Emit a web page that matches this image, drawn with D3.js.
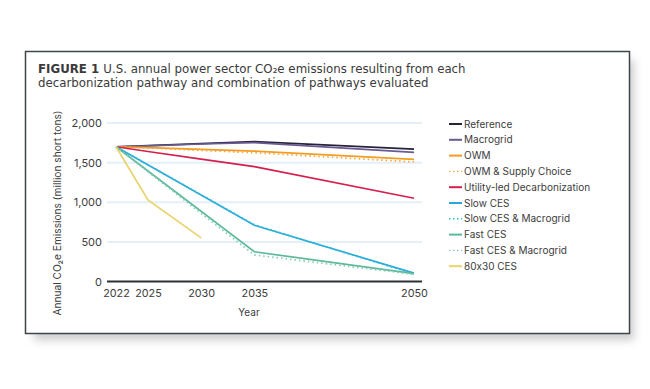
<!DOCTYPE html>
<html>
<head>
<meta charset="utf-8">
<script src="https://cdn.jsdelivr.net/npm/d3@7"></script>
<style>
  body { margin: 0; background: #fff; }
  svg { display: block; }
  .tick-label, .legend-label, .axis-title { font-family: Inter, "Liberation Sans", sans-serif; fill: #3c3c3c; font-feature-settings: "calt" 0; }
  .title { font-family: "DejaVu Sans", sans-serif; fill: #3a3a3a; }
</style>
</head>
<body>
<div id="chart"></div>
<script>
// data (million short tons CO2e)
const yearsFull = [2022, 2025, 2030, 2035, 2050];
const yearsCES  = [2022, 2035, 2050];
const years8030 = [2022, 2025, 2030];

const referenceVals  = [1700, 1715, 1740, 1765, 1670];
const macrogridVals  = [1700, 1712, 1735, 1752, 1630];
const owmVals        = [1700, 1690, 1668, 1646, 1542];
const owmSupplyVals  = [1700, 1684, 1654, 1624, 1508];
const utilityVals    = [1700, 1640, 1545, 1450, 1050];
const slowCesVals    = [1700, 710, 105];
const slowCesMgVals  = [1700, 716, 96];
const fastCesVals    = [1700, 375, 100];
const fastCesMgVals  = [1700, 335, 90];
const ces8030Vals    = [1700, 1030, 550];

const yTicks = [0, 500, 1000, 1500, 2000];
const xTicks = [2022, 2025, 2030, 2035, 2050];

const seriesNames = ['Reference', 'Macrogrid', 'OWM', 'OWM & Supply Choice', 'Utility-led Decarbonization',
  'Slow CES', 'Slow CES & Macrogrid', 'Fast CES', 'Fast CES & Macrogrid', '80x30 CES'];

const series = [
  { name: seriesNames[0], years: yearsFull, values: referenceVals, color: '#24233a', dash: null },
  { name: seriesNames[1], years: yearsFull, values: macrogridVals, color: '#6a5a92', dash: null },
  { name: seriesNames[2], years: yearsFull, values: owmVals, color: '#f39c1f', dash: null },
  { name: seriesNames[3], years: yearsFull, values: owmSupplyVals, color: '#f3a848', dash: '1.5,3' },
  { name: seriesNames[4], years: yearsFull, values: utilityVals, color: '#d5204e', dash: null },
  { name: seriesNames[5], years: yearsCES, values: slowCesVals, color: '#2ba7df', dash: null },
  { name: seriesNames[6], years: yearsCES, values: slowCesMgVals, color: '#2fc1c9', dash: '1.5,3' },
  { name: seriesNames[7], years: yearsCES, values: fastCesVals, color: '#5cb99b', dash: null },
  { name: seriesNames[8], years: yearsCES, values: fastCesMgVals, color: '#86ccb6', dash: '1.5,3' },
  { name: seriesNames[9], years: years8030, values: ces8030Vals, color: '#e8d46c', dash: null }
];

const width = 650, height = 389;

const svg = d3.select('#chart').append('svg')
  .attr('width', width)
  .attr('height', height);

// drop shadow under the card
const defs = svg.append('defs');
defs.append('filter')
  .attr('id', 'blur')
  .attr('x', '-10%').attr('y', '-10%').attr('width', '120%').attr('height', '130%')
  .append('feGaussianBlur').attr('stdDeviation', 4);

svg.append('rect')
  .attr('x', 34).attr('y', 60)
  .attr('width', 600).attr('height', 280)
  .attr('fill', '#cccccc')
  .attr('filter', 'url(#blur)');

svg.append('rect')
  .attr('x', 25.5).attr('y', 51.5)
  .attr('width', 604).attr('height', 282)
  .attr('fill', '#fff')
  .attr('stroke', '#3d454b')
  .attr('stroke-width', 1.5);

// title
const title = svg.append('text')
  .attr('class', 'title')
  .attr('x', 38)
  .attr('y', 73)
  .attr('font-size', 11.8);
title.append('tspan').attr('font-weight', 700).text('FIGURE 1 ');
title.append('tspan').text('U.S. annual power sector CO\u2082e emissions resulting from each');

svg.append('text')
  .attr('class', 'title')
  .attr('x', 38)
  .attr('y', 87)
  .attr('font-size', 11.8)
  .text('decarbonization pathway and combination of pathways evaluated');

// scales
const x = d3.scaleLinear().domain([2022, 2050]).range([116, 414]);
const y = d3.scaleLinear().domain([0, 2000]).range([281.5, 123]);

const chart = svg.append('g');

// gridlines
chart.selectAll('.grid')
  .data(yTicks.filter(d => d > 0))
  .join('line')
  .attr('class', 'grid')
  .attr('x1', 107).attr('x2', 422)
  .attr('y1', d => y(d)).attr('y2', d => y(d))
  .attr('stroke', '#e4eff8')
  .attr('stroke-width', 2);

// y axis labels
const yAxis = chart.append('g')
  .attr('transform', 'translate(106,0)')
  .call(d3.axisLeft(y).tickValues(yTicks).tickSize(0).tickPadding(4).tickFormat(d3.format(',')));
yAxis.select('.domain').remove();
yAxis.selectAll('text')
  .attr('class', 'tick-label')
  .attr('font-size', 11)
  .attr('fill', '#3c3c3c');

// x axis
const xAxis = chart.append('g')
  .attr('transform', `translate(0,${y(0)})`)
  .call(d3.axisBottom(x).tickValues(xTicks).tickSize(0).tickPadding(8).tickFormat(d3.format('d')));
xAxis.select('.domain').remove();
xAxis.selectAll('text')
  .attr('class', 'tick-label')
  .attr('font-size', 10.8)
  .attr('fill', '#3c3c3c');

chart.append('line')
  .attr('x1', 107).attr('x2', 422)
  .attr('y1', y(0)).attr('y2', y(0))
  .attr('stroke', '#2c3236')
  .attr('stroke-width', 2);

// axis titles
svg.append('text')
  .attr('class', 'axis-title')
  .attr('transform', 'translate(61,213) rotate(-90)')
  .attr('text-anchor', 'middle')
  .attr('font-size', 10.2)
  .text('Annual CO\u2082e Emissions (million short tons)');

svg.append('text')
  .attr('class', 'axis-title')
  .attr('x', 249)
  .attr('y', 316)
  .attr('text-anchor', 'middle')
  .attr('font-size', 10)
  .text('Year');

// lines
const line = d3.line()
  .x(d => x(d[0]))
  .y(d => y(d[1]));

chart.selectAll('.series')
  .data(series)
  .join('path')
  .attr('class', 'series')
  .attr('fill', 'none')
  .attr('stroke', d => d.color)
  .attr('stroke-width', 1.7)
  .attr('stroke-dasharray', d => d.dash)
  .attr('d', d => line(d.years.map((yr, i) => [yr, d.values[i]])));

// legend
const legend = svg.append('g')
  .attr('transform', 'translate(449,124)');

const item = legend.selectAll('.legend-item')
  .data(series)
  .join('g')
  .attr('class', 'legend-item')
  .attr('transform', (d, i) => `translate(0,${i * 15.8})`);

item.append('line')
  .attr('x1', 0).attr('x2', 13)
  .attr('stroke', d => d.color)
  .attr('stroke-width', d => d.dash ? 1.4 : 2)
  .attr('stroke-dasharray', d => d.dash ? '1.5,2.5' : null);

item.append('text')
  .attr('class', 'legend-label')
  .attr('x', 15)
  .attr('dy', '0.35em')
  .attr('font-size', 10)
  .text(d => d.name);
</script>
</body>
</html>
